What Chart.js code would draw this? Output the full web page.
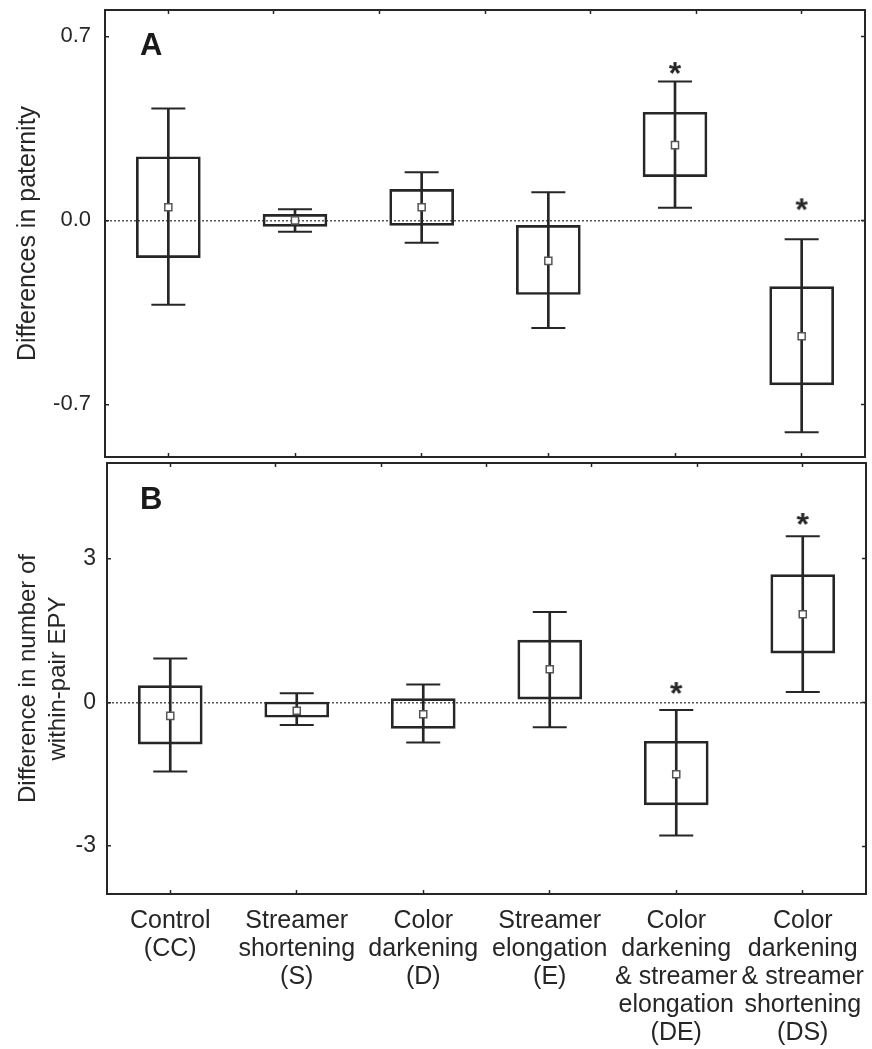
<!DOCTYPE html>
<html>
<head>
<meta charset="utf-8">
<script src="https://cdn.jsdelivr.net/npm/chart.js@4.4.1/dist/chart.umd.min.js"></script>
<style>
  body { margin: 0; background: #fff; }
  #wrap { position: relative; width: 872px; height: 1049px; }
  canvas { position: absolute; left: 0; }
  #chartA { top: 0; }
  #chartB { top: 460px; }
  .tag { position: absolute; left: 140px; font: bold 31px/31px "Liberation Sans", Arial, sans-serif; color: #1a1a1a; }
</style>
</head>
<body>
<div id="wrap">
  <canvas id="chartA" width="872" height="460"></canvas>
  <canvas id="chartB" width="872" height="589"></canvas>
  <div class="tag" style="top:29px">A</div>
  <div class="tag" style="top:483px">B</div>
</div>
<script>
const categories = [
  ["Control", "(CC)"],
  ["Streamer", "shortening", "(S)"],
  ["Color", "darkening", "(D)"],
  ["Streamer", "elongation", "(E)"],
  ["Color", "darkening", "& streamer", "elongation", "(DE)"],
  ["Color", "darkening", "& streamer", "shortening", "(DS)"]
];

// panel A - differences in paternity
const patMean    = [0.05, 0.00, 0.05, -0.154, 0.286, -0.441];
const patBoxHi   = [0.242, 0.023, 0.118, -0.019, 0.411, -0.252];
const patBoxLo   = [-0.142, -0.023, -0.019, -0.282, 0.166, -0.626];
const patWhiskHi = [0.425, 0.042, 0.183, 0.107, 0.528, -0.072];
const patWhiskLo = [-0.321, -0.043, -0.085, -0.409, 0.048, -0.806];
const patStars   = [null, null, null, null, 0.579, 0.061];
const patTicks   = [0.7, 0.0, -0.7];

// panel B - difference in number of within-pair EPY
const epyMean    = [-0.28, -0.175, -0.245, 0.695, -1.50, 1.84];
const epyBoxHi   = [0.35, 0.01, 0.08, 1.30, -0.81, 2.67];
const epyBoxLo   = [-0.87, -0.31, -0.54, 0.07, -2.14, 1.03];
const epyWhiskHi = [0.92, 0.19, 0.375, 1.89, -0.16, 3.47];
const epyWhiskLo = [-1.44, -0.47, -0.835, -0.52, -2.78, 0.22];
const epyStars   = [null, null, null, null, 0.30, 3.83];
const epyTicks   = [3, 0, -3];

const INK = "#262626";
const FONT = "'Liberation Sans', Arial, sans-serif";
Chart.defaults.font.family = FONT;
Chart.defaults.color = INK;

// asterisk used as point style
function starImage() {
  const c = document.createElement("canvas");
  c.width = 26; c.height = 26;
  const g = c.getContext("2d");
  g.font = "bold 32px " + FONT;
  g.textAlign = "center";
  const m = g.measureText("*");
  g.fillStyle = INK;
  g.fillText("*", 13, 13 + (m.actualBoundingBoxAscent - m.actualBoundingBoxDescent) / 2);
  return c;
}
const star = starImage();

function boxDatasets(mean, boxLo, boxHi, whiskLo, whiskHi, stars) {
  return [
    { type: "line", data: mean, showLine: false, pointStyle: "rect", pointRadius: 5,
      pointBackgroundColor: "#fff", pointBorderColor: "#555", pointBorderWidth: 1.5, order: 0 },
    { type: "line", data: stars, showLine: false, pointStyle: star, pointRadius: 10, order: 0 },
    { type: "line", data: whiskHi, showLine: false, pointStyle: "line", pointRadius: 17,
      pointBorderColor: INK, pointBorderWidth: 2, order: 1 },
    { type: "line", data: whiskLo, showLine: false, pointStyle: "line", pointRadius: 17,
      pointBorderColor: INK, pointBorderWidth: 2, order: 1 },
    { type: "bar", data: whiskLo.map((lo, i) => [lo, whiskHi[i]]), backgroundColor: INK,
      barThickness: 2, grouped: false, order: 2 },
    { type: "bar", data: boxLo.map((lo, i) => [lo, boxHi[i]]), backgroundColor: "rgba(0,0,0,0)",
      borderColor: INK, borderWidth: 2, borderSkipped: false, barThickness: 64, grouped: false, order: 3 }
  ];
}

const frame = { display: true, color: INK, width: 2 };
const inwardTicks = { drawOnChartArea: false, tickLength: -4, tickColor: INK, tickWidth: 1.5 };

// fixed box size, and no extra padding from label overhang
function sized(w, h) {
  return s => {
    if (w !== null) s.width = w;
    if (h !== null) s.height = h;
    s.paddingTop = s.paddingBottom = s.paddingLeft = s.paddingRight = 0;
  };
}

function makePanel(id, p) {
  const setTicks = s => { s.ticks = p.ticks.map(v => ({ value: v })); };
  return new Chart(document.getElementById(id), {
    type: "bar",
    data: { labels: categories, datasets: p.datasets },
    options: {
      responsive: false,
      animation: false,
      events: [],
      layout: { padding: p.padding, autoPadding: false },
      plugins: { legend: { display: false }, tooltip: { enabled: false } },
      scales: {
        x: {
          position: "bottom",
          offset: true,
          grid: Object.assign({ offset: false }, inwardTicks),
          border: frame,
          ticks: p.showLabels
            ? { font: { size: 25, lineHeight: 1.12 }, padding: 17, maxRotation: 0, minRotation: 0, autoSkip: false }
            : { display: false },
          afterFit: sized(null, p.bottomHeight)
        },
        xTop: {
          type: "linear",
          position: "top",
          min: -0.5, max: 5.5,
          afterBuildTicks: s => { s.ticks = categories.map((c, i) => ({ value: i })); },
          grid: inwardTicks,
          border: frame,
          ticks: { display: false },
          afterFit: sized(null, 0)
        },
        y: {
          position: "left",
          min: p.min, max: p.max,
          afterBuildTicks: setTicks,
          afterFit: sized(p.leftWidth, null),
          ticks: { font: { size: p.tickSize }, padding: p.tickPad, callback: p.fmt },
          grid: {
            drawOnChartArea: true,
            color: c => (c.tick && c.tick.value === 0 ? "#555" : "rgba(0,0,0,0)"),
            lineWidth: 1.5,
            tickLength: -4, tickColor: INK, tickWidth: 1.5
          },
          border: { display: true, color: INK, width: 2, dash: [2, 2] },
          title: { display: true, text: p.title, color: INK,
                   font: { size: p.titleSize, lineHeight: 1.25 }, padding: { top: p.titlePad, bottom: 0 } }
        },
        yRight: {
          position: "right",
          min: p.min, max: p.max,
          afterBuildTicks: setTicks,
          afterFit: sized(0, null),
          ticks: { display: false },
          grid: inwardTicks,
          border: frame
        }
      }
    }
  });
}

makePanel("chartA", {
  datasets: boxDatasets(patMean, patBoxLo, patBoxHi, patWhiskLo, patWhiskHi, patStars),
  ticks: patTicks, min: -0.9, max: 0.8,
  fmt: v => v.toFixed(1),
  title: "Differences in paternity", titleSize: 25, titlePad: 12,
  tickSize: 22, tickPad: 18, leftWidth: 105,
  padding: { top: 10, right: 7, bottom: 3, left: 0 },
  showLabels: false, bottomHeight: 0
});

makePanel("chartB", {
  datasets: boxDatasets(epyMean, epyBoxLo, epyBoxHi, epyWhiskLo, epyWhiskHi, epyStars),
  ticks: epyTicks, min: -4, max: 5,
  fmt: v => String(v),
  title: ["Difference in number of", "within-pair EPY"], titleSize: 24, titlePad: 13,
  tickSize: 23, tickPad: 15, leftWidth: 107,
  padding: { top: 3, right: 6, bottom: 0, left: 0 },
  showLabels: true, bottomHeight: 155
});
</script>
</body>
</html>
